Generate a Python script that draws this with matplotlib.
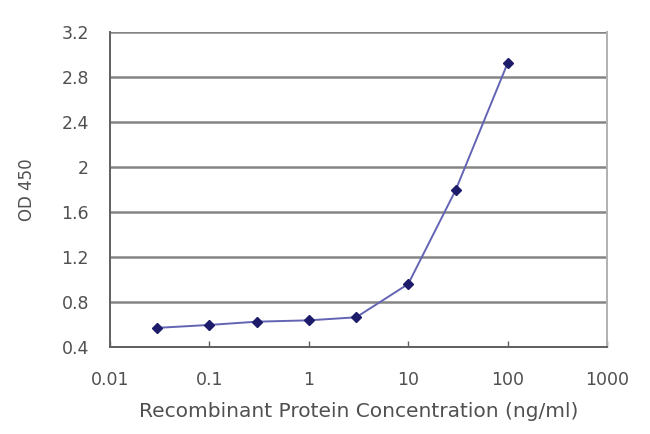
import matplotlib
matplotlib.use("Agg")
import matplotlib.pyplot as plt
from matplotlib.ticker import FixedLocator, NullLocator

# data
conc = [0.03, 0.1, 0.3, 1, 3, 10, 30, 100]
od450 = [0.57, 0.596, 0.625, 0.637, 0.664, 0.96, 1.795, 2.925]

x_ticks = [0.01, 0.1, 1, 10, 100, 1000]
x_tick_labels = ["0.01", "0.1", "1", "10", "100", "1000"]
y_ticks = [0.4, 0.8, 1.2, 1.6, 2.0, 2.4, 2.8, 3.2]
y_tick_labels = ["0.4", "0.8", "1.2", "1.6", "2", "2.4", "2.8", "3.2"]

text_color = "#505050"
grid_color = "#858585"

fig = plt.figure(figsize=(6.5, 4.34), dpi=100)
ax = fig.add_axes([0.169, 0.2005, 0.765, 0.7255])

ax.plot(conc, od450, color="#6464b4", linewidth=1.4, marker="D", markersize=5,
        markerfacecolor="#1c1c6b", markeredgecolor="#1c1c6b", zorder=3)

ax.set_xscale("log")
ax.set_xlim(0.01, 1000)
ax.set_ylim(0.4, 3.2)
ax.xaxis.set_major_locator(FixedLocator(x_ticks))
ax.xaxis.set_minor_locator(NullLocator())
ax.set_xticklabels(x_tick_labels)
ax.set_yticks(y_ticks)
ax.set_yticklabels(y_tick_labels)

ax.yaxis.grid(True, color=grid_color, linewidth=1.8)
ax.set_axisbelow(True)

for side in ["left", "bottom"]:
    ax.spines[side].set_color("#606060")
    ax.spines[side].set_linewidth(1.4)
ax.spines["right"].set_color("#b0b0b0")
ax.spines["right"].set_linewidth(1.4)
ax.spines["top"].set_visible(False)

ax.tick_params(axis="x", direction="in", length=4, width=1, color="#606060",
               labelsize=12.5, labelcolor=text_color, pad=17)
ax.tick_params(axis="y", direction="out", length=0, width=1, color="#606060",
               labelsize=12.5, labelcolor=text_color, pad=15)

ax.set_xlabel("Recombinant Protein Concentration (ng/ml)", fontsize=14.5,
              color=text_color, labelpad=10)
ax.set_ylabel("OD 450", fontsize=12, color=text_color, labelpad=18)

fig.savefig("out.png", dpi=100)
